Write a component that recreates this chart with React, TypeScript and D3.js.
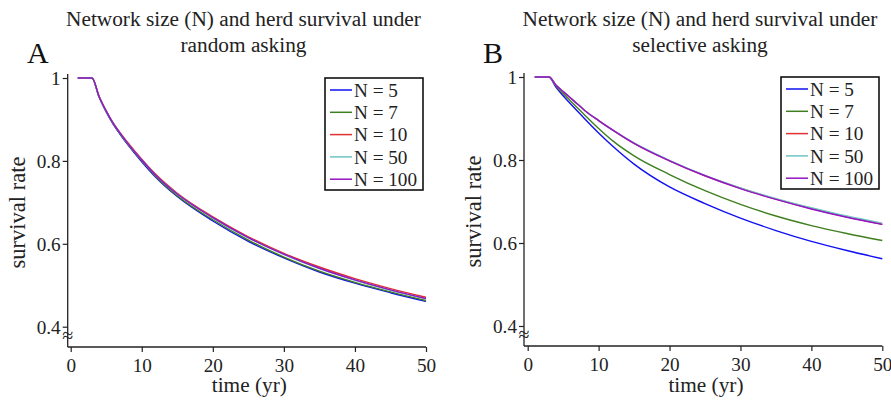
import * as d3 from "d3";
import { useEffect, useRef } from "react";

// time points (years)
const times = [1, 2, 3, 4, 5, 6, 7, 8, 10, 12, 15, 20, 25, 30, 35, 40, 45, 50];

const seriesNames = ["N = 5", "N = 7", "N = 10", "N = 50", "N = 100"];
const seriesColors = ["#1010f0", "#3f7f1f", "#e03030", "#70c4c4", "#9414c4"];

// panel A: random asking
const randomN5 = [1, 1, 1, 0.954, 0.918, 0.888, 0.863, 0.84, 0.798, 0.76, 0.714, 0.655, 0.606, 0.566, 0.532, 0.505, 0.482, 0.461];
const randomN7 = [1, 1, 1, 0.954, 0.919, 0.889, 0.864, 0.841, 0.8, 0.762, 0.716, 0.658, 0.609, 0.568, 0.534, 0.507, 0.484, 0.463];
const randomN10 = [1, 1, 1, 0.956, 0.921, 0.891, 0.867, 0.845, 0.804, 0.767, 0.722, 0.665, 0.617, 0.577, 0.544, 0.516, 0.492, 0.471];
const randomN50 = [1, 1, 1, 0.955, 0.92, 0.89, 0.866, 0.843, 0.802, 0.765, 0.72, 0.662, 0.614, 0.574, 0.54, 0.512, 0.488, 0.467];
const randomN100 = [1, 1, 1, 0.955, 0.92, 0.89, 0.866, 0.843, 0.802, 0.765, 0.72, 0.663, 0.615, 0.575, 0.541, 0.513, 0.489, 0.468];

// panel B: selective asking
const selectN5 = [1, 1, 1, 0.975, 0.955, 0.936, 0.918, 0.9, 0.865, 0.833, 0.79, 0.735, 0.695, 0.66, 0.63, 0.604, 0.582, 0.562];
const selectN7 = [1, 1, 1, 0.978, 0.96, 0.943, 0.926, 0.909, 0.876, 0.846, 0.81, 0.765, 0.726, 0.693, 0.665, 0.642, 0.623, 0.606];
const selectN10 = [1, 1, 1, 0.98, 0.965, 0.95, 0.935, 0.92, 0.895, 0.872, 0.84, 0.798, 0.762, 0.732, 0.706, 0.683, 0.663, 0.645];
const selectN50 = [1, 1, 1, 0.98, 0.965, 0.95, 0.935, 0.92, 0.895, 0.872, 0.841, 0.799, 0.763, 0.733, 0.707, 0.685, 0.665, 0.648];
const selectN100 = [1, 1, 1, 0.98, 0.965, 0.95, 0.935, 0.92, 0.895, 0.872, 0.84, 0.798, 0.762, 0.731, 0.705, 0.682, 0.662, 0.645];

const xTicks = [0, 10, 20, 30, 40, 50];
const yTicks = [0.4, 0.6, 0.8, 1];

const FONT = "'Liberation Serif', 'Times New Roman', serif";

export default function App() {
  const ref = useRef<SVGSVGElement>(null);

  useEffect(() => {
    const svg = d3.select(ref.current);
    svg.selectAll("*").remove();

    const panels = [
      {
        letter: "A",
        title: ["Network size (N) and herd survival under", "random asking"],
        series: [randomN5, randomN7, randomN10, randomN50, randomN100],
        x0: 70.7, x1: 426, yTop: 78, yBot: 326.7, axisX: 67.7, axisY: 347,
        letterX: 27, titleX: 243.5, legX: 325, legY: 78,
      },
      {
        letter: "B",
        title: ["Network size (N) and herd survival under", "selective asking"],
        series: [selectN5, selectN7, selectN10, selectN50, selectN100],
        x0: 527.7, x1: 882.3, yTop: 77, yBot: 326, axisX: 524, axisY: 346,
        letterX: 483, titleX: 700, legX: 781, legY: 77,
      },
    ];

    panels.forEach((p) => {
      const g = svg.append("g");
      const x = d3.scaleLinear().domain([0, 50]).range([p.x0, p.x1]);
      const y = d3.scaleLinear().domain([0.4, 1]).range([p.yBot, p.yTop]);

      // titles
      p.title.forEach((t, i) => {
        g.append("text")
          .attr("x", p.titleX).attr("y", 26 + i * 26)
          .attr("text-anchor", "middle")
          .attr("font-family", FONT).attr("font-size", 21.3)
          .attr("fill", "#222")
          .text(t);
      });
      g.append("text")
        .attr("x", p.letterX).attr("y", 63)
        .attr("font-family", FONT).attr("font-size", 30)
        .attr("fill", "#111")
        .text(p.letter);

      // y axis
      const ya = g.append("g")
        .attr("transform", `translate(${p.axisX},0)`)
        .call(d3.axisLeft(y).tickValues(yTicks).tickSize(5).tickFormat((d) => d3.format("")(d as number)));
      ya.select(".domain").remove();
      ya.selectAll("line").attr("stroke", "#222").attr("stroke-width", 1.2);
      ya.selectAll("text")
        .attr("font-family", FONT).attr("font-size", 19.2).attr("fill", "#222")
        .attr("x", -7).attr("dy", "0.33em");
      g.append("line")
        .attr("x1", p.axisX).attr("x2", p.axisX)
        .attr("y1", p.yTop - 4).attr("y2", p.axisY)
        .attr("stroke", "#222").attr("stroke-width", 1.3);

      // axis break mark
      g.append("text")
        .attr("x", p.axisX).attr("y", y(0.4) + 15)
        .attr("text-anchor", "middle")
        .attr("font-family", FONT).attr("font-size", 20)
        .attr("fill", "#222")
        .text("≈");

      // x axis
      const xa = g.append("g")
        .attr("transform", `translate(0,${p.axisY})`)
        .call(d3.axisBottom(x).tickValues(xTicks).tickSize(5).tickFormat(d3.format("d")));
      xa.select(".domain").remove();
      xa.selectAll("line").attr("stroke", "#222").attr("stroke-width", 1.2);
      xa.selectAll("text")
        .attr("font-family", FONT).attr("font-size", 19.2).attr("fill", "#222")
        .attr("y", 25).attr("dy", 0);
      g.append("line")
        .attr("x1", p.axisX).attr("x2", p.x1)
        .attr("y1", p.axisY).attr("y2", p.axisY)
        .attr("stroke", "#222").attr("stroke-width", 1.3);

      // axis titles
      g.append("text")
        .attr("transform", `translate(${p.axisX - 43},${(p.yTop + p.axisY) / 2}) rotate(-90)`)
        .attr("text-anchor", "middle")
        .attr("font-family", FONT).attr("font-size", 22.5)
        .attr("fill", "#222")
        .text("survival rate");
      g.append("text")
        .attr("x", (p.x0 + p.x1) / 2 + 1).attr("y", 392)
        .attr("text-anchor", "middle")
        .attr("font-family", FONT).attr("font-size", 21.3)
        .attr("fill", "#222")
        .text("time (yr)");

      // lines
      const line = d3.line<number>()
        .x((_, i) => x(times[i]))
        .y((d) => y(d))
        .curve(d3.curveMonotoneX);
      p.series.forEach((s, i) => {
        g.append("path")
          .datum(s)
          .attr("d", line)
          .attr("fill", "none")
          .attr("stroke", seriesColors[i])
          .attr("stroke-width", 1.4);
      });

      // legend
      const lw = 98, lh = 112;
      g.append("rect")
        .attr("x", p.legX).attr("y", p.legY)
        .attr("width", lw).attr("height", lh)
        .attr("fill", "white")
        .attr("stroke", "#111").attr("stroke-width", 1.6);
      seriesNames.forEach((name, i) => {
        const ry = p.legY + 12 + i * 22.3;
        g.append("line")
          .attr("x1", p.legX + 5).attr("x2", p.legX + 27)
          .attr("y1", ry).attr("y2", ry)
          .attr("stroke", seriesColors[i]).attr("stroke-width", 1.5);
        g.append("text")
          .attr("x", p.legX + 29).attr("y", ry + 6.7)
          .attr("font-family", FONT).attr("font-size", 19.2)
          .attr("fill", "#222")
          .text(name);
      });
    });
  }, []);

  return (
    <svg
      ref={ref}
      width={891}
      height={401}
      style={{ position: "absolute", left: 0, top: 0, background: "white" }}
    />
  );
}
